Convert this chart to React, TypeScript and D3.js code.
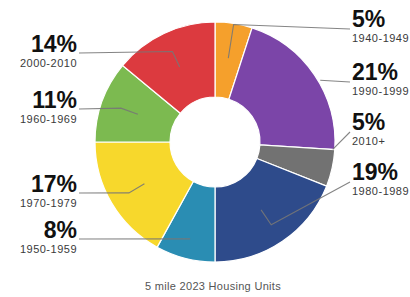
import * as d3 from 'd3';

const PERIODS = ['1940-1949', '1990-1999', '2010+', '1980-1989', '1950-1959', '1970-1979', '1960-1969', '2000-2010'];
const SHARES = [5, 21, 5, 19, 8, 17, 11, 14];
const COLORS = ['#f5a02c', '#7b45a8', '#727272', '#2e4b8b', '#2a8db3', '#f7d82c', '#7cba50', '#dc3a3f'];
const TITLE = '5 mile 2023 Housing Units';

// label placement per slice: side, baseline of the % text, knee/end radius of the leader, angle fraction
const LABEL_LAYOUT = [
  { side: 'right', y: 27, kneeR: 119, endR: 85, frac: 0.5 },
  { side: 'right', y: 80, kneeR: 122, endR: 122, frac: 0.55 },
  { side: 'right', y: 130, kneeR: 118, endR: 118, frac: 0.0 },
  { side: 'right', y: 180, kneeR: 100, endR: 82, frac: 0.5 },
  { side: 'left', y: 238, kneeR: 100, endR: 100, frac: 0.5 },
  { side: 'left', y: 192, kneeR: 100, endR: 82, frac: 0.5 },
  { side: 'left', y: 108, kneeR: 100, endR: 82, frac: 0.5 },
  { side: 'left', y: 52, kneeR: 100, endR: 83, frac: 0.5 },
];

const W = 410;
const H = 297;
const CX = 215;
const CY = 142;
const OUTER = 120;
const INNER = 45;
const LEFT_X = 77;
const RIGHT_X = 352;

export default function App() {
  const pie = d3.pie<number>().value(d => d).sort(null);
  const arc = d3.arc<d3.PieArcDatum<number>>().innerRadius(INNER).outerRadius(OUTER);
  const slices = pie(SHARES);

  const polar = (a: number, r: number) => [CX + r * Math.sin(a), CY - r * Math.cos(a)];

  return (
    <svg width={W} height={H} style={{ position: 'absolute', left: 0, top: 0, background: '#fff', fontFamily: '"Liberation Sans", Arial, sans-serif' }}>
      <g transform={`translate(${CX},${CY})`}>
        {slices.map((s, i) => (
          <path key={i} d={arc(s) ?? ''} fill={COLORS[i]} stroke="#fff" strokeWidth={1.2} />
        ))}
      </g>

      {slices.map((s, i) => {
        const L = LABEL_LAYOUT[i];
        const a = s.startAngle + (s.endAngle - s.startAngle) * L.frac;
        const [kx, ky] = polar(a, L.kneeR);
        const [ex, ey] = polar(a, L.endR);
        const left = L.side === 'left';
        const sx = left ? LEFT_X + 2 : RIGHT_X - 2;
        const sy = left ? L.y + 1 : L.y + 2;
        const tx = left ? LEFT_X : RIGHT_X;
        return (
          <g key={i}>
            <polyline
              points={`${sx},${sy} ${kx},${ky} ${ex},${ey}`}
              fill="none"
              stroke="#777"
              strokeOpacity={0.9}
              strokeWidth={1.1}
            />
            <text x={tx} y={L.y} fontSize={23} fontWeight={700} fill="#111" textAnchor={left ? 'end' : 'start'}>
              {SHARES[i]}%
            </text>
            <text
              x={tx}
              y={L.y + 14.5}
              fontSize={11}
              letterSpacing={0.5}
              fill="#3a3a3a"
              textAnchor={left ? 'end' : 'start'}
            >
              {PERIODS[i]}
            </text>
          </g>
        );
      })}

      <text x={213} y={290} fontSize={11} letterSpacing={0.3} fill="#555" textAnchor="middle">
        {TITLE}
      </text>
    </svg>
  );
}
